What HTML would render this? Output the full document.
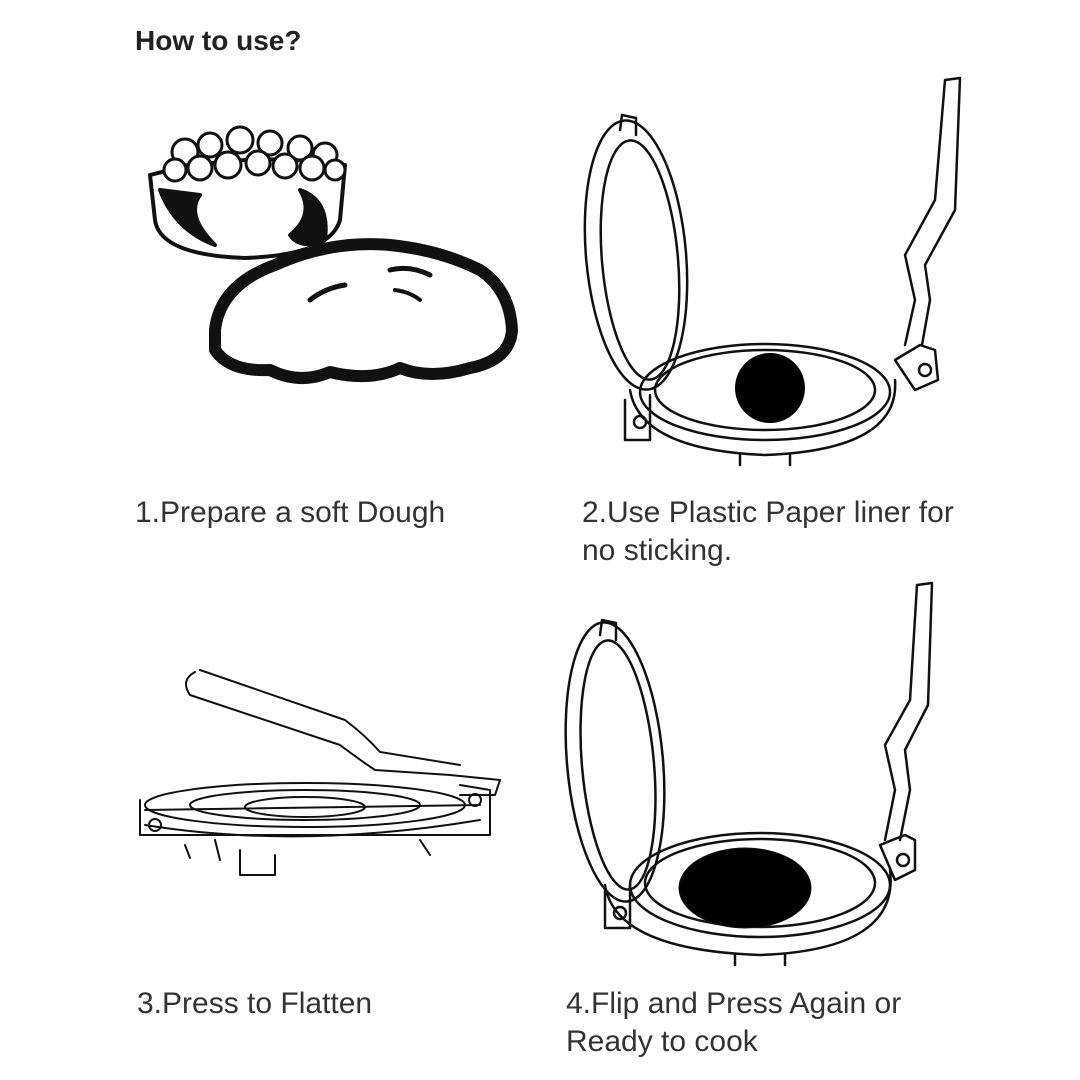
<!DOCTYPE html>
<html><head><meta charset="utf-8"><style>
html,body{margin:0;padding:0;background:#fff;}
body{width:1080px;height:1080px;position:relative;overflow:hidden;font-family:"Liberation Sans",sans-serif;}
.t{position:absolute;color:#333;font-size:30px;line-height:38px;}
svg{position:absolute;left:0;top:0;}
</style></head><body>
<div class="t" style="left:135px;top:22px;font-weight:bold;font-size:28px;color:#222">How to use?</div>
<div class="t" style="left:135px;top:494px">1.Prepare a soft Dough</div>
<div class="t" style="left:582px;top:494px">2.Use Plastic Paper liner for<br>no sticking.</div>
<div class="t" style="left:137px;top:985px">3.Press to Flatten</div>
<div class="t" style="left:566px;top:985px">4.Flip and Press Again or<br>Ready to cook</div>
<svg width="1080" height="1080" viewBox="0 0 1080 1080" fill="none" stroke="#111" stroke-linejoin="round" stroke-linecap="round">
<g stroke-width="4">
<path d="M150 175 Q245 150 345 165 L340 220 Q330 255 245 258 Q160 255 155 220 Z" fill="#fff"/>
<g fill="#fff" stroke-width="3">
<circle cx="185" cy="152" r="13"/><circle cx="210" cy="145" r="12"/><circle cx="240" cy="140" r="13"/><circle cx="270" cy="143" r="12"/><circle cx="300" cy="148" r="12"/><circle cx="325" cy="155" r="12"/>
<circle cx="175" cy="170" r="11"/><circle cx="200" cy="168" r="12"/><circle cx="228" cy="165" r="13"/><circle cx="258" cy="163" r="12"/><circle cx="285" cy="166" r="12"/><circle cx="312" cy="168" r="12"/><circle cx="335" cy="170" r="10"/>
</g>
<path d="M160 190 Q175 230 215 245 Q185 215 200 195 Z" fill="#111"/>
<path d="M300 190 Q330 200 325 240 Q300 250 290 235 Q315 215 300 190Z" fill="#111"/>
</g>
<path d="M215 330 Q220 285 275 265 Q330 240 390 245 Q440 250 480 270 Q510 290 512 330 Q510 360 470 368 Q430 380 400 368 Q370 382 330 372 Q300 385 270 370 Q230 372 215 350 Z" fill="#fff" stroke-width="12"/>
<path d="M310 300 Q325 288 345 285" stroke-width="5"/><path d="M390 270 Q410 265 430 275" stroke-width="5"/><path d="M395 290 Q410 292 420 300" stroke-width="4"/>
<g stroke-width="2.5">
<ellipse cx="636" cy="255" rx="50" ry="135" transform="rotate(-5 636 255)"/>
<ellipse cx="640" cy="260" rx="38" ry="120" transform="rotate(-5 640 260)"/>
<path d="M620 130 L622 115 L636 118 L636 135"/>
<ellipse cx="765" cy="392" rx="125" ry="48"/>
<ellipse cx="765" cy="390" rx="110" ry="40"/>
<path d="M630 390 Q640 450 765 455 Q900 450 895 380"/>
<path d="M740 455 L740 465 M790 455 L790 465"/>
<path d="M625 400 L625 440 L650 440 L650 395"/>
<circle cx="640" cy="422" r="6"/>
<path d="M895 360 L920 345 L935 350 L938 380 L915 390 Z"/><circle cx="925" cy="370" r="6"/>
<path d="M905 345 L915 300 L905 255 L935 200 L945 80 L960 78 L955 210 L925 265 L930 300 L922 345"/>
</g>
<circle cx="770" cy="388" r="35" fill="#000" stroke="none"/>
<g stroke-width="2">
<path d="M195 672 Q180 680 190 695 L340 745 Q360 760 375 770 L450 775 L500 780 L495 795 L460 795"/>
<path d="M200 670 L345 720 Q365 735 380 752 L460 765"/>
<ellipse cx="305" cy="805" rx="160" ry="22"/><ellipse cx="305" cy="805" rx="115" ry="15"/><ellipse cx="305" cy="807" rx="60" ry="10"/>
<path d="M140 800 L140 835 L490 835 L490 790 L460 785"/>
<path d="M145 810 L480 805 M145 825 Q300 850 480 820"/>
<circle cx="155" cy="825" r="6"/><circle cx="475" cy="800" r="6"/>
<path d="M215 840 L220 860 M240 850 L240 875 L275 875 L275 855 M420 840 L430 855 M185 845 L190 858"/>
</g>
<g stroke-width="2.5">
<ellipse cx="615" cy="762" rx="48" ry="140" transform="rotate(-5 615 762)"/>
<ellipse cx="618" cy="765" rx="36" ry="125" transform="rotate(-5 618 765)"/>
<path d="M600 635 L602 620 L616 623 L616 640"/>
<ellipse cx="760" cy="885" rx="130" ry="52"/>
<ellipse cx="760" cy="883" rx="115" ry="44"/>
<path d="M605 885 Q615 950 760 955 Q900 950 890 870"/>
<path d="M735 955 L735 965 M785 955 L785 965"/>
<path d="M605 890 L605 928 L630 928 L630 885"/>
<circle cx="620" cy="913" r="6"/>
<path d="M880 845 L905 835 L915 840 L915 870 L895 880 Z"/><circle cx="903" cy="860" r="6"/>
<path d="M885 840 L895 790 L885 745 L910 700 L917 585 L932 583 L928 705 L905 750 L910 790 L900 840"/>
</g>
<ellipse cx="745" cy="888" rx="66" ry="40" fill="#000"/>
</svg>
</body></html>
